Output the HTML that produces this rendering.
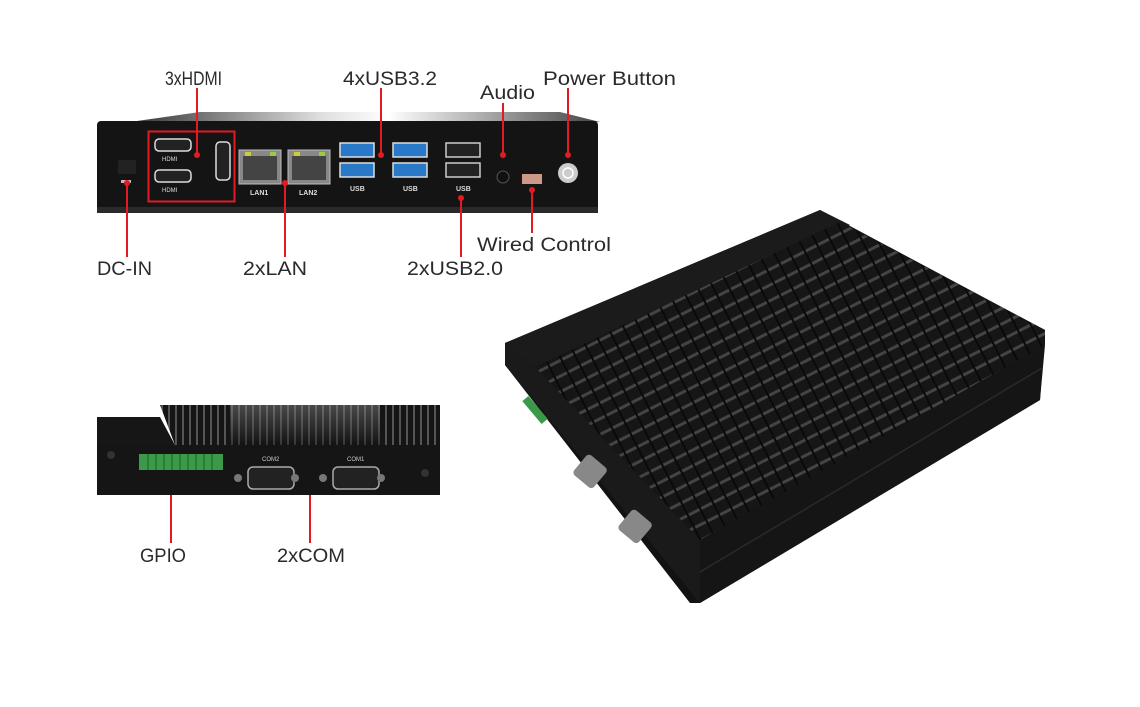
<!DOCTYPE html>
<html><head><meta charset="utf-8"><style>
html,body{margin:0;padding:0;background:#fff;}
svg{display:block}
text{font-family:"Liberation Sans",sans-serif;fill:#2a2a2a;font-size:19px}
</style></head><body>
<svg width="1140" height="707" viewBox="0 0 1140 707">
<defs>
<linearGradient id="hs" x1="0" y1="0" x2="1" y2="0">
<stop offset="0" stop-color="#333"/><stop offset="0.4" stop-color="#ddd"/><stop offset="0.55" stop-color="#fff"/><stop offset="1" stop-color="#444"/>
</linearGradient>
<linearGradient id="hs2" x1="0" y1="0" x2="0" y2="1">
<stop offset="0" stop-color="#888"/><stop offset="1" stop-color="#111"/>
</linearGradient>
<pattern id="fins" width="7" height="40" patternUnits="userSpaceOnUse">
<rect width="7" height="40" fill="#151515"/><rect x="0" width="2" height="40" fill="#555"/>
</pattern>
<pattern id="bigfins" width="14" height="14" patternUnits="userSpaceOnUse" patternTransform="rotate(-27)">
<rect width="14" height="14" fill="#161616"/><rect y="0" width="14" height="3" fill="#444"/><rect x="0" y="0" width="2" height="14" fill="#0a0a0a"/>
</pattern>
</defs>

<!-- front panel top heatsink -->
<polygon points="130,122 200,112 560,112 600,122" fill="url(#hs)"/>
<rect x="97" y="121" width="501" height="92" rx="4" fill="#141414"/>
<rect x="97" y="207" width="501" height="6" fill="#2a2a2a"/>
<rect x="118" y="160" width="18" height="14" fill="#222"/>
<rect x="121" y="180" width="10" height="3" fill="#bbb"/>
<rect x="148.5" y="131.5" width="86" height="70" fill="none" stroke="#e21b23" stroke-width="2"/>
<rect x="155" y="139" width="36" height="12" rx="4" fill="#222" stroke="#ddd" stroke-width="1.5"/>
<text x="162" y="161" style="font-size:6px;fill:#ddd">HDMI</text>
<rect x="155" y="170" width="36" height="12" rx="4" fill="#222" stroke="#ddd" stroke-width="1.5"/>
<text x="162" y="192" style="font-size:6px;fill:#ddd">HDMI</text>
<rect x="216" y="142" width="14" height="38" rx="4" fill="#222" stroke="#ddd" stroke-width="1.5"/>
<rect x="239" y="150" width="42" height="34" fill="#888" stroke="#bbb"/>
<rect x="243" y="156" width="34" height="24" fill="#444"/>
<rect x="245" y="152" width="6" height="4" fill="#cc3"/><rect x="270" y="152" width="6" height="4" fill="#9c4"/>
<text x="250" y="195" style="font-size:7px;fill:#ddd;font-weight:bold">LAN1</text>
<rect x="288" y="150" width="42" height="34" fill="#888" stroke="#bbb"/>
<rect x="292" y="156" width="34" height="24" fill="#444"/>
<rect x="294" y="152" width="6" height="4" fill="#cc3"/><rect x="319" y="152" width="6" height="4" fill="#9c4"/>
<text x="299" y="195" style="font-size:7px;fill:#ddd;font-weight:bold">LAN2</text>
<g fill="#2a78c8" stroke="#ddd" stroke-width="1.5">
<rect x="340" y="143" width="34" height="14"/><rect x="340" y="163" width="34" height="14"/>
<rect x="393" y="143" width="34" height="14"/><rect x="393" y="163" width="34" height="14"/>
</g>
<g fill="#222" stroke="#ccc" stroke-width="1.5">
<rect x="446" y="143" width="34" height="14"/><rect x="446" y="163" width="34" height="14"/>
</g>
<text x="350" y="191" style="font-size:7px;fill:#ddd;font-weight:bold">USB</text>
<text x="403" y="191" style="font-size:7px;fill:#ddd;font-weight:bold">USB</text>
<text x="456" y="191" style="font-size:7px;fill:#ddd;font-weight:bold">USB</text>
<circle cx="503" cy="177" r="6" fill="#111" stroke="#555"/>
<rect x="522" y="174" width="20" height="10" fill="#c98"/>
<circle cx="568" cy="173" r="10" fill="#ccc"/>
<circle cx="568" cy="173" r="5" fill="none" stroke="#fff" stroke-width="1.5"/>

<g stroke="#e21b23" stroke-width="2">
<line x1="197" y1="88" x2="197" y2="155"/>
<line x1="381" y1="88" x2="381" y2="155"/>
<line x1="503" y1="103" x2="503" y2="155"/>
<line x1="568" y1="88" x2="568" y2="155"/>
<line x1="127" y1="183" x2="127" y2="257"/>
<line x1="285" y1="183" x2="285" y2="257"/>
<line x1="461" y1="198" x2="461" y2="257"/>
<line x1="532" y1="190" x2="532" y2="233"/>
<line x1="171" y1="465" x2="171" y2="543"/>
<line x1="310" y1="478" x2="310" y2="543"/>
</g>
<g fill="#e21b23">
<circle cx="197" cy="155" r="3"/><circle cx="381" cy="155" r="3"/><circle cx="503" cy="155" r="3"/><circle cx="568" cy="155" r="3"/>
<circle cx="127" cy="183" r="3"/><circle cx="285" cy="183" r="3"/><circle cx="461" cy="198" r="3"/><circle cx="532" cy="190" r="3"/>
<circle cx="171" cy="465" r="3"/><circle cx="310" cy="478" r="3"/>
</g>

<g>
<text x="165" y="85" textLength="57" lengthAdjust="spacingAndGlyphs">3xHDMI</text>
<text x="343" y="85" textLength="94" lengthAdjust="spacingAndGlyphs">4xUSB3.2</text>
<text x="480" y="99" textLength="55" lengthAdjust="spacingAndGlyphs">Audio</text>
<text x="543" y="85" textLength="133" lengthAdjust="spacingAndGlyphs">Power Button</text>
<text x="97" y="275" textLength="55" lengthAdjust="spacingAndGlyphs">DC-IN</text>
<text x="243" y="275" textLength="64" lengthAdjust="spacingAndGlyphs">2xLAN</text>
<text x="407" y="275" textLength="96" lengthAdjust="spacingAndGlyphs">2xUSB2.0</text>
<text x="477" y="251" textLength="134" lengthAdjust="spacingAndGlyphs">Wired Control</text>
<text x="140" y="562" textLength="46" lengthAdjust="spacingAndGlyphs">GPIO</text>
<text x="277" y="562" textLength="68" lengthAdjust="spacingAndGlyphs">2xCOM</text>
</g>

<!-- back panel -->
<polygon points="160,405 440,405 440,445 175,445" fill="url(#fins)"/>
<polygon points="230,405 380,405 380,445 230,445" fill="url(#hs2)" opacity="0.45"/>
<polygon points="97,417 160,417 175,445 440,445 440,495 97,495" fill="#161616"/>
<rect x="97" y="445" width="343" height="50" rx="2" fill="#151515"/>
<circle cx="111" cy="455" r="4" fill="#333"/><circle cx="425" cy="473" r="4" fill="#333"/>
<rect x="139" y="454" width="84" height="16" fill="#3a9a4a"/>
<g stroke="#1d5d2a"><line x1="148" y1="454" x2="148" y2="470"/><line x1="156" y1="454" x2="156" y2="470"/><line x1="164" y1="454" x2="164" y2="470"/><line x1="172" y1="454" x2="172" y2="470"/><line x1="180" y1="454" x2="180" y2="470"/><line x1="188" y1="454" x2="188" y2="470"/><line x1="196" y1="454" x2="196" y2="470"/><line x1="204" y1="454" x2="204" y2="470"/><line x1="212" y1="454" x2="212" y2="470"/></g>
<rect x="248" y="467" width="46" height="22" rx="5" fill="#222" stroke="#aaa" stroke-width="1.5"/>
<rect x="333" y="467" width="46" height="22" rx="5" fill="#222" stroke="#aaa" stroke-width="1.5"/>
<circle cx="238" cy="478" r="4" fill="#777"/><circle cx="295" cy="478" r="4" fill="#777"/><circle cx="323" cy="478" r="4" fill="#777"/><circle cx="381" cy="478" r="4" fill="#777"/>
<text x="262" y="461" style="font-size:6px;fill:#ccc">COM2</text>
<text x="347" y="461" style="font-size:6px;fill:#ccc">COM1</text>

<!-- big device -->
<polygon points="505,343 820,210 1045,330 1040,400 700,603 690,603 505,365" fill="#121212"/>
<polygon points="505,343 820,210 850,225 535,367" fill="#1b1b1b"/>
<polygon points="535,367 840,222 1045,330 1045,345 700,540" fill="url(#bigfins)"/>
<polygon points="505,343 535,367 700,540 700,603 505,365" fill="#1a1a1a"/>
<polygon points="700,540 1045,345 1040,400 700,603" fill="#151515"/>
<line x1="700" y1="572" x2="1042" y2="368" stroke="#2a2a2a" stroke-width="1.5"/>
<rect x="531" y="395" width="8" height="30" fill="#3a9a4a" transform="rotate(-40 535 410)"/>
<rect x="578" y="458" width="26" height="26" rx="4" fill="#888" transform="rotate(40 590 470)"/>
<rect x="623" y="513" width="26" height="26" rx="4" fill="#888" transform="rotate(40 635 525)"/>
</svg>
</body></html>
